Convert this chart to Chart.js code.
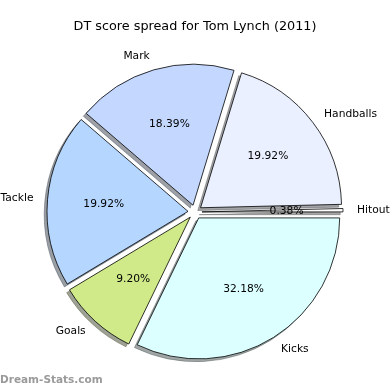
<!DOCTYPE html>
<html><head><meta charset="utf-8">
<script src="https://cdn.jsdelivr.net/npm/chart.js@4/dist/chart.umd.min.js"></script>
<style>html,body{margin:0;padding:0;background:#fff;}#wrap{width:390px;height:390px;position:relative;}</style>
</head><body><div id="wrap"><canvas id="c"></canvas></div>
<script>
const titleText = 'DT score spread for Tom Lynch (2011)';
// clockwise drawing order starting at 3 o'clock
const categories = ['Kicks', 'Goals', 'Tackle', 'Mark', 'Handballs', 'Hitout'];
const dtPoints = [84, 24, 52, 48, 52, 1];
const sliceColors = ['#dcffff', '#d0ea8a', '#b4d6ff', '#c4d8ff', '#eaf0ff', '#ffffff'];
const watermark = 'Dream-Stats.com';

const EXPLODE = 7;
const RADIUS = 141;
const SH_X = -2.8, SH_Y = 2.8;
const FONT = "'DejaVu Sans', sans-serif";

function shadowColor(hex) {
  const r = parseInt(hex.slice(1, 3), 16), g = parseInt(hex.slice(3, 5), 16), b = parseInt(hex.slice(5, 7), 16);
  return `rgba(${Math.round(r * 0.3)},${Math.round(g * 0.3)},${Math.round(b * 0.3)},0.5)`;
}

const explodePlugin = {
  id: 'explode',
  beforeDatasetDraw(chart, args) {
    const ctx = chart.ctx;
    const els = args.meta.data;
    els.forEach((el, i) => {
      const mid = (el.startAngle + el.endAngle) / 2;
      const sc = shadowColor(sliceColors[i]);
      const proxy = Object.create(el);
      proxy.options = Object.assign({}, el.options, { backgroundColor: sc, borderColor: sc });
      ctx.save();
      ctx.translate(Math.cos(mid) * EXPLODE + SH_X, Math.sin(mid) * EXPLODE + SH_Y);
      el.draw.call(proxy, ctx);
      ctx.restore();
    });
    els.forEach((el) => {
      const mid = (el.startAngle + el.endAngle) / 2;
      ctx.save();
      ctx.translate(Math.cos(mid) * EXPLODE, Math.sin(mid) * EXPLODE);
      el.draw(ctx);
      ctx.restore();
    });
    return false;
  },
  afterDatasetsDraw(chart) {
    const ctx = chart.ctx;
    const meta = chart.getDatasetMeta(0);
    const data = chart.data.datasets[0].data;
    const total = data.reduce((a, b) => a + b, 0);
    ctx.save();
    ctx.fillStyle = '#000';
    ctx.textBaseline = 'middle';
    meta.data.forEach((el, i) => {
      const mid = (el.startAngle + el.endAngle) / 2;
      const c = Math.cos(mid), s = Math.sin(mid);
      const R = el.outerRadius;
      ctx.font = `10.7px ${FONT}`;
      ctx.textAlign = c > 0 ? 'left' : 'right';
      ctx.fillText(chart.data.labels[i], el.x + c * (EXPLODE + 1.1 * R), el.y + s * (EXPLODE + 1.1 * R));
      ctx.textAlign = 'center';
      const pct = (data[i] / total * 100).toFixed(2) + '%';
      ctx.fillText(pct, el.x + c * (EXPLODE + 0.6 * R), el.y + s * (EXPLODE + 0.6 * R));
    });
    ctx.font = `bold 10.5px ${FONT}`;
    ctx.fillStyle = '#9a9a9a';
    ctx.textAlign = 'left';
    ctx.textBaseline = 'middle';
    ctx.fillText(watermark, 0, 380);
    ctx.restore();
  }
};

new Chart(document.getElementById('c'), {
  type: 'pie',
  data: {
    labels: categories,
    datasets: [{
      data: dtPoints,
      backgroundColor: sliceColors,
      borderColor: '#000',
      borderWidth: 0.8,
      borderJoinStyle: 'miter',
      offset: 0,
      hoverOffset: 0
    }]
  },
  options: {
    responsive: true,
    maintainAspectRatio: false,
    animation: false,
    devicePixelRatio: 1,
    rotation: 90,
    radius: RADIUS,
    events: [],
    layout: { padding: { top: 0, left: 0, right: 0, bottom: 1.2 } },
    plugins: {
      legend: { display: false },
      tooltip: { enabled: false },
      title: {
        display: true,
        text: titleText,
        color: '#000',
        font: { family: FONT, size: 12.8, weight: 'normal' },
        padding: { top: 18.8, bottom: 1 }
      }
    }
  },
  plugins: [explodePlugin]
});
</script>
</body></html>
